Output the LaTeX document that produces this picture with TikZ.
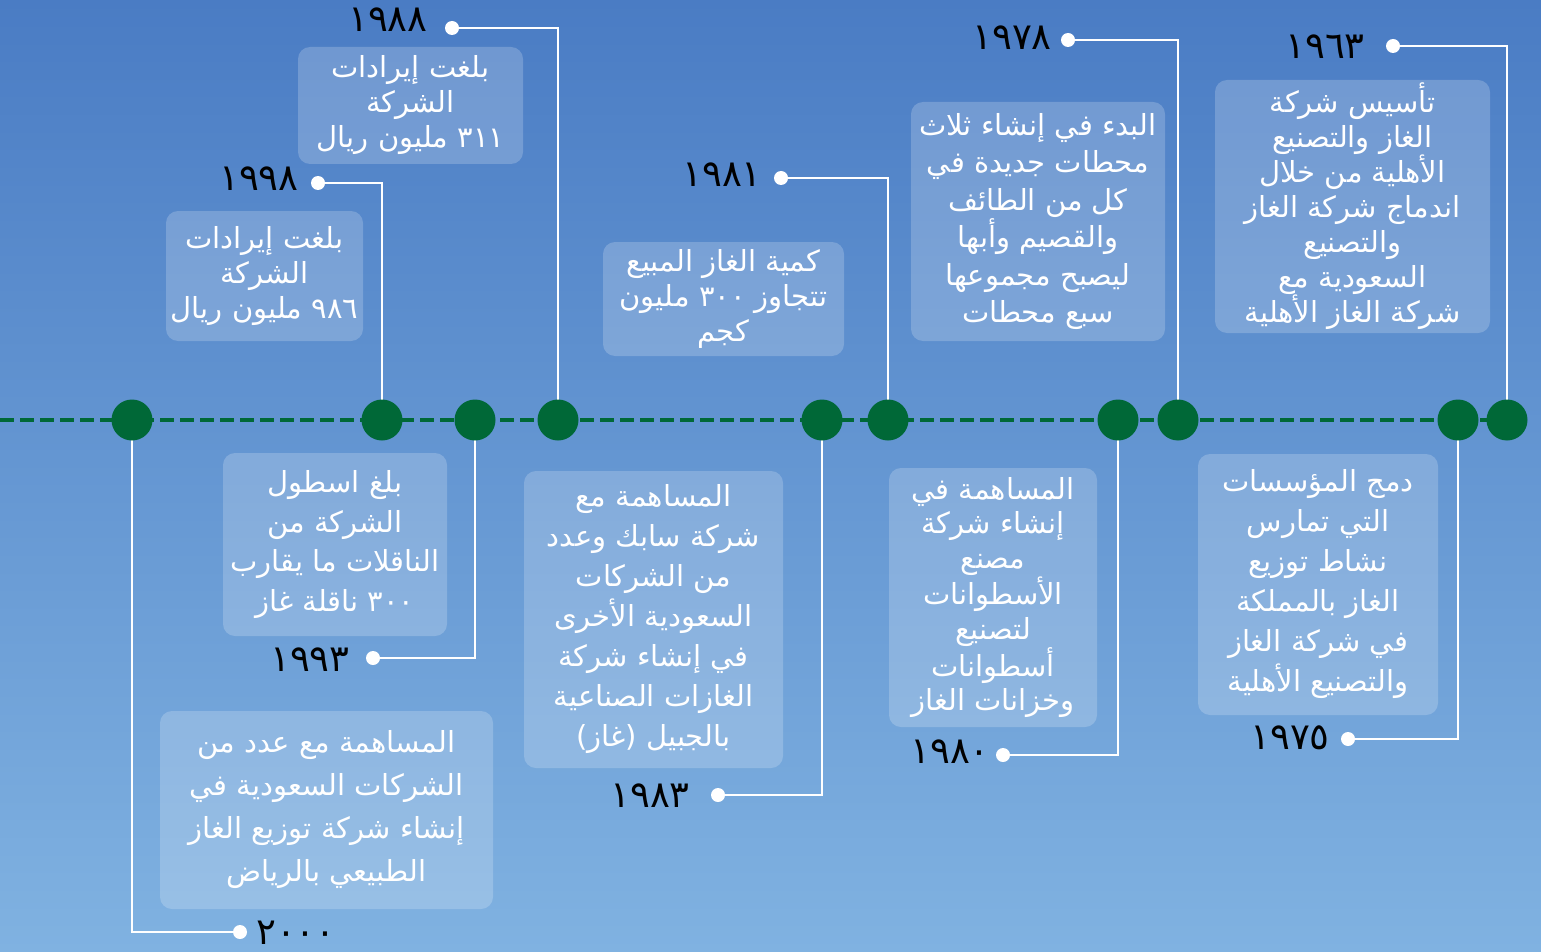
\documentclass[tikz,border=0pt]{standalone}
\usepackage{fontspec}
\TeXXeTstate=1
\newfontfamily\arabicfont[Script=Arabic]{DejaVu Sans}
\newcommand{\arl}[1]{\beginR #1\endR}
\definecolor{bgtop}{HTML}{4A7CC4}
\definecolor{bgmid}{HTML}{5A90CD}
\definecolor{bgbot}{HTML}{80B2E1}
\definecolor{dgreen}{HTML}{006837}
\tikzset{
  tbox/.style={rectangle, rounded corners=12pt, fill=white, fill opacity=0.2, text opacity=1, text=white, align=center, inner sep=0pt},
  yr/.style={font=\arabicfont\fontsize{37}{37}\selectfont, text=black, inner sep=0pt},
  gdot/.style={circle, fill=dgreen, minimum size=41pt, inner sep=0pt},
  wdot/.style={circle, fill=white, minimum size=14pt, inner sep=0pt},
  conn/.style={draw=white, line width=2.6pt},
  tline/.style={draw=dgreen, line width=4pt, dash pattern=on 14pt off 6pt}
}
\begin{document}
\begin{tikzpicture}[x=1pt,y=1pt]
\useasboundingbox (0,0) rectangle (1541,-952);
\shade[top color=bgtop, middle color=bgmid, bottom color=bgbot] (0,0) rectangle (1541,-952);

% timeline
\coordinate (L) at (0,-420);
\coordinate (R) at (1507,-420);
\draw[tline] (L) -- (R);

% boxes
\node[tbox, minimum width=225pt, minimum height=117pt, font=\arabicfont\fontsize{29}{35}\selectfont] (bA) at (410.5,-105.5)
 {\arl{بلغت إيرادات}\\\arl{الشركة}\\\arl{٣١١ مليون ريال}};
\node[tbox, minimum width=197pt, minimum height=130pt, font=\arabicfont\fontsize{29}{35}\selectfont] (bB) at (264.5,-276)
 {\arl{بلغت إيرادات}\\\arl{الشركة}\\\arl{٩٨٦ مليون ريال}};
\node[tbox, minimum width=241pt, minimum height=114pt, font=\arabicfont\fontsize{29}{35}\selectfont] (bC) at (723.5,-299)
 {\arl{كمية الغاز المبيع}\\\arl{تتجاوز ٣٠٠ مليون}\\\arl{كجم}};
\node[tbox, minimum width=254pt, minimum height=239pt, font=\arabicfont\fontsize{29}{37.5}\selectfont] (bD) at (1038,-221.5)
 {\arl{البدء في إنشاء ثلاث}\\\arl{محطات جديدة في}\\\arl{كل من الطائف}\\\arl{والقصيم وأبها}\\\arl{ليصبح مجموعها}\\\arl{سبع محطات}};
\node[tbox, minimum width=275pt, minimum height=253pt, font=\arabicfont\fontsize{29}{35}\selectfont] (bE) at (1352.5,-206.5)
 {\arl{تأسيس شركة}\\\arl{الغاز والتصنيع}\\\arl{الأهلية من خلال}\\\arl{اندماج شركة الغاز}\\\arl{والتصنيع}\\\arl{السعودية مع}\\\arl{شركة الغاز الأهلية}};
\node[tbox, minimum width=224pt, minimum height=183pt, font=\arabicfont\fontsize{29}{39.5}\selectfont] (bF) at (335,-544.5)
 {\arl{بلغ اسطول}\\\arl{الشركة من}\\\arl{الناقلات ما يقارب}\\\arl{٣٠٠ ناقلة غاز}};
\node[tbox, minimum width=333pt, minimum height=198pt, font=\arabicfont\fontsize{29}{43}\selectfont] (bG) at (326.5,-810)
 {\arl{المساهمة مع عدد من}\\\arl{الشركات السعودية في}\\\arl{إنشاء شركة توزيع الغاز}\\\arl{الطبيعي بالرياض}};
\node[tbox, minimum width=259pt, minimum height=297pt, font=\arabicfont\fontsize{29}{40}\selectfont] (bH) at (653.5,-619.5)
 {\arl{المساهمة مع}\\\arl{شركة سابك وعدد}\\\arl{من الشركات}\\\arl{السعودية الأخرى}\\\arl{في إنشاء شركة}\\\arl{الغازات الصناعية}\\\arl{بالجبيل (غاز)}};
\node[tbox, minimum width=208pt, minimum height=259pt, font=\arabicfont\fontsize{29}{34.7}\selectfont] (bI) at (993,-597.5)
 {\arl{المساهمة في}\\\arl{إنشاء شركة}\\\arl{مصنع}\\\arl{الأسطوانات}\\\arl{لتصنيع}\\\arl{أسطوانات}\\\arl{وخزانات الغاز}};
\node[tbox, minimum width=240pt, minimum height=261pt, font=\arabicfont\fontsize{29}{40}\selectfont] (bJ) at (1318,-584.5)
 {\arl{دمج المؤسسات}\\\arl{التي تمارس}\\\arl{نشاط توزيع}\\\arl{الغاز بالمملكة}\\\arl{في شركة الغاز}\\\arl{والتصنيع الأهلية}};

% green dots positions
\coordinate (p2000) at (132,-420);
\coordinate (p1998) at (382,-420);
\coordinate (p1993) at (475,-420);
\coordinate (p1988) at (558,-420);
\coordinate (p1983) at (822,-420);
\coordinate (p1981) at (888,-420);
\coordinate (p1980) at (1118,-420);
\coordinate (p1978) at (1178,-420);
\coordinate (p1975) at (1458,-420);
\coordinate (p1963) at (1507,-420);

% white end points
\coordinate (e1988) at (452,-28);
\coordinate (e1998) at (318,-183);
\coordinate (e1981) at (781,-178);
\coordinate (e1978) at (1068,-40);
\coordinate (e1963) at (1393,-46);
\coordinate (e1993) at (373,-658);
\coordinate (e2000) at (240,-932);
\coordinate (e1983) at (718,-795);
\coordinate (e1980) at (1003,-755);
\coordinate (e1975) at (1348,-739);

% connectors
\foreach \y in {1988,1998,1981,1978,1963,1993,2000,1983,1980,1975}{
  \draw[conn] (p\y) |- (e\y);
}

% dots
\foreach \y in {1988,1998,1981,1978,1963,1993,2000,1983,1980,1975}{
  \node[gdot] (g\y) at (p\y) {};
  \node[wdot] (w\y) at (e\y) {};
}

% years
\node[yr] (y1988) at (388,-20) {١٩٨٨};
\node[yr] (y1998) at (259,-179) {١٩٩٨};
\node[yr] (y1981) at (722,-175) {١٩٨١};
\node[yr] (y1978) at (1012,-38) {١٩٧٨};
\node[yr] (y1963) at (1325,-47) {١٩٦٣};
\node[yr] (y1993) at (310,-660) {١٩٩٣};
\node[yr] (y2000) at (296,-933) {٢٠٠٠};
\node[yr] (y1983) at (650,-796) {١٩٨٣};
\node[yr] (y1980) at (950,-752) {١٩٨٠};
\node[yr] (y1975) at (1290,-738) {١٩٧٥};
\end{tikzpicture}
\end{document}
